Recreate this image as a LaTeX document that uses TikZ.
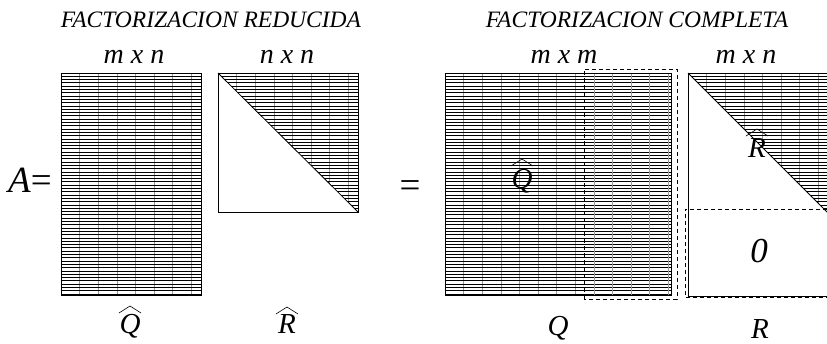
\documentclass[tikz,border=0pt]{standalone}
\usepackage{fontspec}
\setmainfont{Liberation Serif}
\begin{document}
\begin{tikzpicture}[x=1pt,y=-1pt,
  hline/.style={line width=0.9pt,black},
  vline/.style={line width=0.5pt,black!40},
  frame/.style={line width=0.8pt,black},
  dbox/.style={line width=0.8pt,dash pattern=on 4pt off 3pt},
  lbl/.style={anchor=base,inner sep=0pt,font=\itshape},
  hat/.style={line width=0.6pt}]
\useasboundingbox (0,0) rectangle (827,343);
\newcommand\hatchrect[4]{%
  \foreach \k in {1,...,7}{\draw[vline] ({#1+\k*18.6},#2) -- ({#1+\k*18.6},#4);}
  \pgfmathtruncatemacro\nl{(#4-#2)/3.3}
  \foreach \k in {1,...,\nl}{\draw[hline] (#1,{#2+\k*3.3}) -- (#3,{#2+\k*3.3});}
}
% headings
\node[lbl,font=\fontsize{23.5}{23.5}\selectfont\itshape] (h1) at (211,27) {FACTORIZACION REDUCIDA};
\node[lbl,font=\fontsize{23.5}{23.5}\selectfont\itshape] (h2) at (637,27) {FACTORIZACION COMPLETA};
% size labels
\tikzset{sz/.style={lbl,font=\fontsize{28}{28}\selectfont\itshape}}
\node[sz] (s1) at (134,63) {m x n};
\node[sz] (s2) at (287,63) {n x n};
\node[sz] (s3) at (564,63) {m x m};
\node[sz] (s4) at (746,63) {m x n};
% A=
\node[lbl,anchor=base west,font=\fontsize{37}{37}\selectfont] (A) at (8,192) {\textit{A}=};
\node[lbl,font=\fontsize{37}{37}\selectfont] (eq) at (410,197) {=};
% Q hat (left)
\hatchrect{61}{73}{201}{295}
\draw[frame] (61,73) rectangle (201,295);
% R hat (left)
\begin{scope}
\clip (218,73) -- (358,73) -- (358,212) -- cycle;
\hatchrect{218}{73}{358}{212}
\end{scope}
\draw[frame] (218,73) rectangle (358,212);
\draw[frame] (218,73) -- (358,212);
% Q right
\begin{scope}
\clip (445,73) rectangle (671,295);
\hatchrect{445}{73}{671}{295}
\foreach \k in {8,...,12}{\draw[vline] ({445+\k*18.6},73) -- ({445+\k*18.6},295);}
\end{scope}
\draw[frame] (445,73) rectangle (671,295);
\draw[dbox] (584,299) -- (584,69) -- (677,69) -- (677,299) -- cycle;
% R right
\begin{scope}
\clip (688,73) -- (828,73) -- (828,213) -- cycle;
\hatchrect{688}{73}{828}{213}
\end{scope}
\draw[frame] (828,73) -- (688,73) -- (688,296) -- (828,296);
\draw[frame] (688,73) -- (828,213);
\draw[dbox] (827,209) -- (685,209) -- (685,297) -- (827,297);
% labels
\tikzset{ml/.style={lbl,font=\fontsize{29}{29}\selectfont\itshape}}
\node[ml] (Qh) at (130,333) {Q};
\draw[hat] (119,313) -- (130,306) -- (141,313);
\node[ml] (Rh) at (287,333) {R};
\draw[hat] (276,314) -- (287,307) -- (298,314);
\node[ml] (Qi) at (522,188) {Q};
\draw[hat] (511,166) -- (522,159) -- (533,166);
\node[ml] (Ri) at (757,157) {R};
\draw[hat] (746,136) -- (757,129) -- (768,136);
\node[lbl,font=\fontsize{35}{35}\selectfont\itshape] (zero) at (759,262) {0};
\node[ml] (Q) at (558,335) {Q};
\node[ml] (R) at (760,338) {R};
\end{tikzpicture}
\end{document}
